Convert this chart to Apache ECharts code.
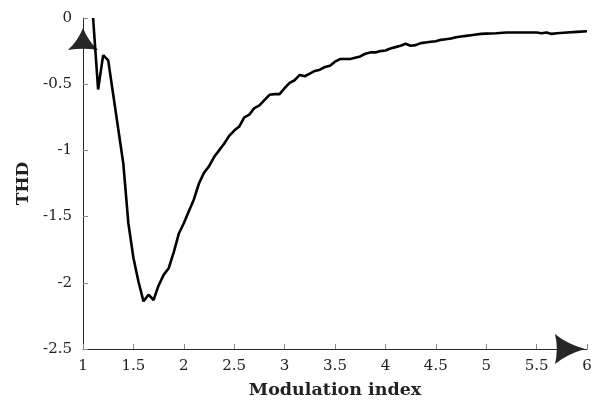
<!DOCTYPE html>
<html>
<head>
<meta charset="utf-8">
<script src="https://cdn.jsdelivr.net/npm/echarts@6/dist/echarts.min.js"></script>
<style>
html,body{margin:0;padding:0;background:#fff;}
#chart{width:603px;height:404px;}
</style>
</head>
<body>
<div id="chart"></div>
<script>
var modIndex = [1.10,1.15,1.20,1.25,1.30,1.35,1.40,1.45,1.50,1.55,1.60,1.65,1.70,1.75,1.80,1.85,1.90,1.95,2.00,2.05,2.10,2.15,2.20,2.25,2.30,2.35,2.40,2.45,2.50,2.55,2.60,2.65,2.70,2.75,2.80,2.85,2.90,2.95,3.00,3.05,3.10,3.15,3.20,3.25,3.30,3.35,3.40,3.45,3.50,3.55,3.60,3.65,3.70,3.75,3.80,3.85,3.90,3.95,4.00,4.05,4.10,4.15,4.20,4.25,4.30,4.35,4.40,4.45,4.50,4.55,4.60,4.65,4.70,4.75,4.80,4.85,4.90,4.95,5.00,5.10,5.20,5.30,5.40,5.50,5.55,5.60,5.65,5.70,5.80,5.90,6.00];
var thd = [0.00,-0.54,-0.28,-0.32,-0.58,-0.84,-1.10,-1.55,-1.81,-1.99,-2.14,-2.09,-2.13,-2.02,-1.94,-1.89,-1.77,-1.63,-1.55,-1.46,-1.37,-1.25,-1.17,-1.12,-1.05,-1.00,-0.95,-0.89,-0.85,-0.82,-0.75,-0.73,-0.68,-0.66,-0.62,-0.58,-0.575,-0.575,-0.53,-0.49,-0.47,-0.43,-0.44,-0.42,-0.40,-0.39,-0.37,-0.36,-0.33,-0.31,-0.31,-0.31,-0.30,-0.29,-0.27,-0.26,-0.26,-0.25,-0.245,-0.23,-0.22,-0.21,-0.195,-0.21,-0.205,-0.19,-0.185,-0.18,-0.175,-0.165,-0.16,-0.155,-0.145,-0.14,-0.135,-0.13,-0.125,-0.12,-0.118,-0.115,-0.11,-0.11,-0.11,-0.11,-0.115,-0.11,-0.12,-0.115,-0.11,-0.105,-0.10];
var xTitle = 'Modulation index';
var yTitle = 'THD';

var arrowPathX = 'path://M50,0 Q68,62 100,100 Q50,88 0,100 Q32,62 50,0 Z';
var arrowPathY = 'path://M50,0 Q68,45 100,73 Q50,65 0,73 Q32,45 50,0 Z';
var axisColor = '#262626';
var textColor = '#222';
var fontFam = 'DejaVu Serif';

var chart = echarts.init(document.getElementById('chart'), null, {renderer: 'canvas'});
chart.setOption({
  animation: false,
  backgroundColor: '#fff',
  grid: {left: 83, right: 16, top: 18, bottom: 53, containLabel: false},
  xAxis: {
    type: 'value', min: 1, max: 6, interval: 0.5,
    name: xTitle, nameLocation: 'middle', nameGap: 32,
    nameTextStyle: {fontFamily: fontFam, fontWeight: 'bold', fontSize: 17.5, color: textColor},
    axisLine: {show: true, onZero: false, lineStyle: {color: axisColor, width: 1},
      symbol: ['none', arrowPathX], symbolSize: [30, 30], symbolOffset: [0, -17]},
    axisTick: {show: true, inside: true, length: 5, lineStyle: {color: '#888'}},
    axisLabel: {fontFamily: fontFam, fontSize: 15, color: textColor, margin: 10},
    splitLine: {show: false}
  },
  yAxis: {
    type: 'value', min: -2.5, max: 0, interval: 0.5,
    name: yTitle, nameLocation: 'middle', nameGap: 50,
    nameTextStyle: {fontFamily: fontFam, fontWeight: 'bold', fontSize: 17, color: textColor},
    axisLine: {show: true, onZero: false, lineStyle: {color: axisColor, width: 1},
      symbol: ['none', arrowPathY], symbolSize: [30, 22], symbolOffset: [0, -21]},
    axisTick: {show: true, inside: true, length: 5, lineStyle: {color: '#888'}},
    axisLabel: {fontFamily: fontFam, fontSize: 15, color: textColor, margin: 11},
    splitLine: {show: false}
  },
  series: [{
    type: 'line',
    data: modIndex.map(function (x, i) { return [x, thd[i]]; }),
    showSymbol: false,
    lineStyle: {color: '#000', width: 2.6},
    clip: false
  }]
});
</script>
</body>
</html>
